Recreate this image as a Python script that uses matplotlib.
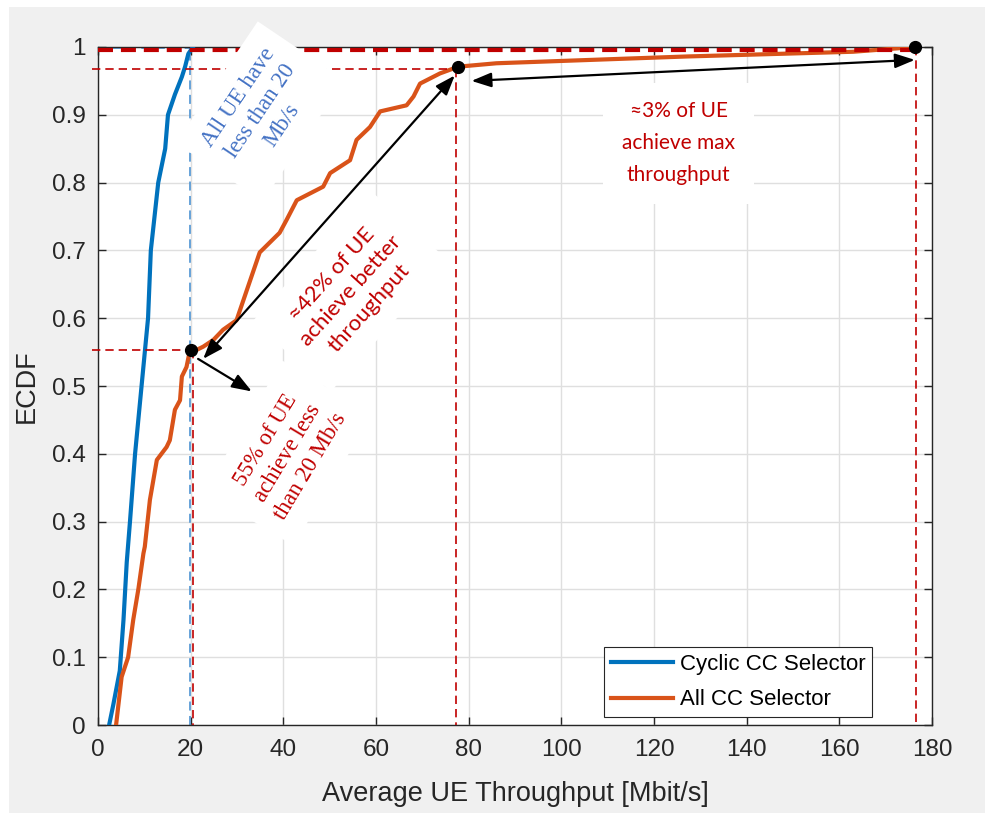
import matplotlib.pyplot as plt
from matplotlib.patches import Rectangle

plt.rcParams['font.family'] = ['Liberation Sans', 'DejaVu Sans']

# ECDF of the cyclic CC selector (throughput in Mbit/s, cumulative fraction)
cyclic_x = [2.4, 3.3, 4.7, 5.5, 6.2, 6.9, 8.0, 9.4, 10.8, 11.4, 13.0, 14.5,
            15.1, 16.6, 18.1, 18.8, 19.5, 20.5]
cyclic_y = [0.0, 0.03, 0.08, 0.155, 0.24, 0.30, 0.40, 0.50, 0.60, 0.70, 0.80, 0.85,
            0.90, 0.93, 0.956, 0.971, 0.99, 1.0]

# ECDF of the all CC selector
all_x = [3.9, 5.1, 6.5, 7.6, 8.7, 9.8, 10.1, 11.2, 12.7, 14.8, 15.5, 16.6, 17.7,
         18.1, 19.1, 19.7, 22.7, 24.9, 27.0, 29.9, 31.4, 34.9, 39.2, 40.7, 42.9,
         48.6, 50.1, 54.4, 55.8, 58.7, 60.9, 66.6, 68.1, 69.5, 73.8, 77.8, 86.0,
         127.0, 163.0, 176.3]
all_y = [0.0, 0.071, 0.10, 0.155, 0.20, 0.253, 0.263, 0.332, 0.391, 0.410, 0.420,
         0.465, 0.479, 0.514, 0.528, 0.548, 0.558, 0.568, 0.583, 0.597, 0.627, 0.697,
         0.726, 0.745, 0.774, 0.794, 0.814, 0.833, 0.863, 0.882, 0.905, 0.914, 0.927,
         0.946, 0.961, 0.971, 0.976, 0.986, 0.993, 1.0]

# highlighted points on the all CC curve
mark_x = [20.0, 77.8, 176.3]
mark_y = [0.553, 0.971, 1.0]

xticks = [0, 20, 40, 60, 80, 100, 120, 140, 160, 180]
yticks = [0, 0.1, 0.2, 0.3, 0.4, 0.5, 0.6, 0.7, 0.8, 0.9, 1.0]
ytick_labels = ['0', '0.1', '0.2', '0.3', '0.4', '0.5', '0.6', '0.7', '0.8', '0.9', '1']

RED = '#C00000'
thin_dash = (0, (5, 3))

fig = plt.figure(figsize=(9.85, 8.13), dpi=100, facecolor='#f0f0f0')
fig.patches.append(Rectangle((0, 1 - 7 / 813), 1, 7 / 813, transform=fig.transFigure,
                             fc='white', ec='none'))
fig.patches.append(Rectangle((0, 0), 9 / 985, 1, transform=fig.transFigure,
                             fc='white', ec='none'))
ax = fig.add_axes([0.0995, 0.1082, 0.8467, 0.834])

ax.plot(cyclic_x, cyclic_y, color='#0072BD', lw=3, label='Cyclic CC Selector', zorder=3)
ax.plot(all_x, all_y, color='#D95319', lw=3, label='All CC Selector', zorder=3)

# guide lines
ax.plot([19.8, 19.8], [0, 1], color='#5B9BD5', lw=1.3, ls=thin_dash, zorder=2)
ax.plot([0, 19.8], [0.999, 0.999], color='#5B9BD5', lw=1.3, ls=thin_dash, zorder=2)
ax.plot([-1.2, 20.0], [0.553, 0.553], color=RED, lw=1.2, ls=thin_dash, clip_on=False, zorder=4)
ax.plot([20.5, 20.5], [0.553, 0], color=RED, lw=1.2, ls=thin_dash, zorder=4)
ax.plot([-1.2, 77.8], [0.968, 0.968], color=RED, lw=1.2, ls=thin_dash, clip_on=False, zorder=4)
ax.plot([77.3, 77.3], [0.968, 0], color=RED, lw=1.2, ls=thin_dash, zorder=4)
ax.plot([176.6, 176.6], [1, 0], color=RED, lw=1.2, ls=thin_dash, zorder=4)
ax.plot([0, 176.3], [0.996, 0.996], color=RED, lw=3, ls=(0, (3.6, 1.9)), zorder=4)

# annotation boxes
serif = 'Liberation Serif'
sans = ['Lato', 'DejaVu Sans']
ax.text(35.0, 0.905, 'All UE have\nless than 20\nMb/s', rotation=56, rotation_mode='anchor',
        ha='center', va='center', color='#4472C4', fontsize=16.5, family=serif,
        linespacing=1.3,
        bbox=dict(boxstyle='square,pad=0.7', fc='white', ec='none'), zorder=5)
ax.text(54.5, 0.640, '≈42% of UE\nachieve better\nthroughput', rotation=48,
        rotation_mode='anchor', ha='center', va='center', color=RED, fontsize=16,
        family=sans, linespacing=1.3,
        bbox=dict(boxstyle='square,pad=0.8', fc='white', ec='none'), zorder=5)
ax.text(41.0, 0.401, '55% of UE\nachieve less\nthan 20 Mb/s', rotation=59,
        rotation_mode='anchor', ha='center', va='center', color=RED, fontsize=16.5,
        family=serif, linespacing=1.3,
        bbox=dict(boxstyle='square,pad=0.7', fc='white', ec='none'), zorder=5)
ax.text(125.3, 0.858, '≈3% of UE\nachieve max\nthroughput', ha='center', va='center',
        color=RED, fontsize=15, family=sans, linespacing=1.75,
        bbox=dict(boxstyle='square,pad=0.9', fc='white', ec='none'), zorder=5)

# arrows
two_head = dict(arrowstyle='<|-|>,head_length=0.6,head_width=0.22', color='k', lw=1.6,
                shrinkA=0, shrinkB=0, mutation_scale=20)
one_head = dict(arrowstyle='-|>,head_length=0.6,head_width=0.22', color='k', lw=1.6,
                shrinkA=0, shrinkB=0, mutation_scale=20)
ax.annotate('', xy=(22.7, 0.54), xytext=(77.0, 0.958), arrowprops=two_head, zorder=6)
ax.annotate('', xy=(33.2, 0.492), xytext=(21.6, 0.540), arrowprops=one_head, zorder=6)
ax.annotate('', xy=(80.6, 0.950), xytext=(176.3, 0.981), arrowprops=two_head, zorder=6)

ax.plot(mark_x, mark_y, 'o', color='k', ms=8.5, clip_on=False, zorder=7)

ax.set_xlim(0, 180)
ax.set_ylim(0, 1)
ax.set_xticks(xticks)
ax.set_yticks(yticks)
ax.set_yticklabels(ytick_labels)
ax.tick_params(direction='in', top=True, right=True, length=6, width=1,
               labelsize=17.5, colors='#262626')
ax.tick_params(axis='x', pad=10)
ax.tick_params(axis='y', pad=9)
ax.grid(True, color='#dfdfdf', lw=1)
ax.set_axisbelow(True)
for sp in ax.spines.values():
    sp.set_color('#262626')
    sp.set_linewidth(1)

ax.set_xlabel('Average UE Throughput [Mbit/s]', fontsize=19.5, color='#262626')
ax.set_ylabel('ECDF', fontsize=19.5, color='#262626')
ax.xaxis.label.set_va('center')
ax.yaxis.label.set_va('center')
ax.xaxis.set_label_coords(0.5, -0.102)
ax.yaxis.set_label_coords(-0.085, 0.5)

leg = ax.legend(loc='lower right', bbox_to_anchor=(0.928, 0.0118), borderaxespad=0,
                fontsize=16, fancybox=False, edgecolor='#262626', framealpha=1,
                handlelength=2.8, handletextpad=0.3, borderpad=0.3, labelspacing=0.65)
leg.get_frame().set_linewidth(0.8)

fig.savefig('out.png', dpi=100, facecolor=fig.get_facecolor())
